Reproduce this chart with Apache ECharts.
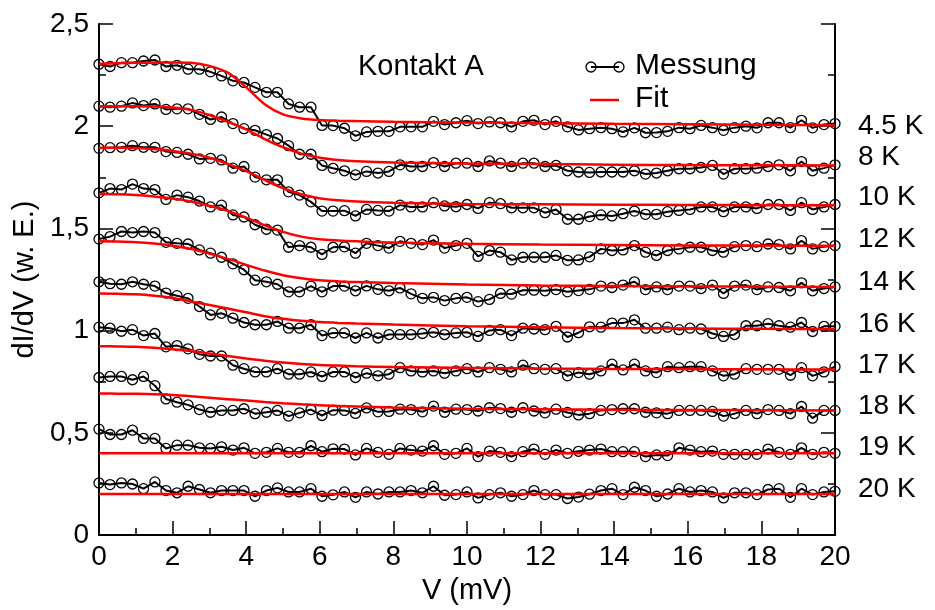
<!DOCTYPE html>
<html><head><meta charset="utf-8">
<script src="https://cdn.jsdelivr.net/npm/echarts@6/dist/echarts.min.js"></script>
<style>html,body{margin:0;padding:0;background:#fff}#c{width:935px;height:610px}</style>
</head><body><div id="c"></div>
<script>
// Bias voltage grid (mV)
const V = [0,0.30,0.61,0.91,1.21,1.52,1.82,2.12,2.42,2.73,3.03,3.33,3.64,3.94,4.24,4.55,4.85,5.15,5.45,5.76,6.06,6.36,6.67,6.97,7.27,7.58,7.88,8.18,8.48,8.79,9.09,9.39,9.70,10.00,10.30,10.61,10.91,11.21,11.52,11.82,12.12,12.42,12.73,13.03,13.33,13.64,13.94,14.24,14.55,14.85,15.15,15.45,15.76,16.06,16.36,16.67,16.97,17.27,17.58,17.88,18.18,18.48,18.79,19.09,19.39,19.70,20.00];
// Measured dI/dV (offset curves)
const m45 = [2.303,2.292,2.311,2.311,2.319,2.324,2.292,2.298,2.279,2.279,2.266,2.246,2.222,2.214,2.190,2.166,2.166,2.109,2.093,2.093,2.004,2.003,1.990,1.953,1.972,1.975,1.975,1.997,1.997,1.997,2.024,2.008,2.017,2.027,2.013,2.021,2.017,1.997,2.024,2.029,2.008,2.024,1.997,1.982,1.988,1.993,1.988,1.972,1.992,1.968,1.969,1.975,1.993,1.988,2.004,1.993,1.980,1.993,2.000,1.992,2.017,2.017,1.993,2.029,1.992,2.008,2.013];
const m8 = [2.098,2.093,2.098,2.114,2.101,2.109,2.082,2.085,2.085,2.058,2.033,2.045,2.013,1.988,1.980,1.959,1.940,1.905,1.863,1.863,1.808,1.794,1.782,1.762,1.779,1.771,1.779,1.811,1.803,1.803,1.822,1.803,1.819,1.819,1.803,1.830,1.819,1.803,1.819,1.819,1.803,1.808,1.782,1.776,1.774,1.776,1.776,1.776,1.782,1.766,1.771,1.782,1.792,1.792,1.798,1.808,1.766,1.792,1.792,1.795,1.803,1.811,1.782,1.827,1.782,1.795,1.811];
const m10 = [1.892,1.895,1.897,1.905,1.897,1.897,1.876,1.872,1.863,1.840,1.843,1.835,1.795,1.803,1.751,1.738,1.738,1.679,1.663,1.630,1.585,1.585,1.587,1.561,1.593,1.588,1.585,1.614,1.605,1.605,1.626,1.610,1.606,1.617,1.598,1.626,1.621,1.601,1.601,1.601,1.577,1.593,1.545,1.545,1.558,1.566,1.561,1.572,1.585,1.569,1.569,1.582,1.588,1.593,1.605,1.605,1.582,1.605,1.605,1.598,1.617,1.617,1.588,1.626,1.593,1.605,1.617];
const m12 = [1.674,1.695,1.690,1.717,1.695,1.690,1.642,1.663,1.653,1.634,1.605,1.614,1.566,1.556,1.518,1.496,1.492,1.408,1.416,1.408,1.373,1.408,1.410,1.379,1.427,1.416,1.404,1.437,1.427,1.421,1.443,1.404,1.416,1.427,1.363,1.392,1.384,1.346,1.359,1.359,1.359,1.368,1.344,1.346,1.361,1.400,1.392,1.395,1.416,1.384,1.368,1.392,1.400,1.408,1.408,1.392,1.384,1.411,1.416,1.411,1.424,1.421,1.400,1.440,1.400,1.411,1.416];
const m14 = [1.448,1.460,1.485,1.480,1.485,1.480,1.432,1.427,1.424,1.395,1.379,1.359,1.327,1.298,1.247,1.239,1.227,1.190,1.190,1.218,1.190,1.218,1.218,1.195,1.219,1.202,1.195,1.209,1.180,1.158,1.163,1.147,1.158,1.163,1.142,1.153,1.182,1.179,1.198,1.198,1.195,1.201,1.190,1.196,1.202,1.218,1.211,1.223,1.239,1.201,1.214,1.201,1.218,1.218,1.206,1.223,1.182,1.218,1.223,1.201,1.214,1.211,1.195,1.234,1.195,1.206,1.214];
const m16 = [1.239,1.230,1.227,1.239,1.227,1.218,1.184,1.171,1.158,1.118,1.077,1.085,1.061,1.040,1.029,1.029,1.045,1.012,1.012,1.029,0.976,0.989,0.989,0.964,0.989,0.964,0.981,0.981,0.981,0.986,0.992,0.981,0.989,0.992,0.972,1.001,1.005,0.976,1.012,1.008,1.005,1.021,0.969,0.990,1.019,1.017,1.037,1.037,1.053,1.012,1.012,1.017,1.005,1.012,1.008,0.986,0.972,0.981,1.024,1.024,1.034,1.024,1.017,1.040,0.996,1.021,1.021];
const m17 = [1.017,1.012,0.997,1.005,0.976,0.986,0.921,0.927,0.911,0.884,0.876,0.876,0.831,0.814,0.798,0.798,0.814,0.787,0.787,0.798,0.776,0.798,0.798,0.771,0.792,0.779,0.787,0.819,0.803,0.798,0.803,0.792,0.803,0.814,0.798,0.819,0.811,0.798,0.831,0.814,0.811,0.814,0.779,0.795,0.787,0.803,0.836,0.808,0.836,0.803,0.795,0.824,0.819,0.824,0.824,0.803,0.779,0.787,0.814,0.811,0.811,0.811,0.782,0.819,0.779,0.798,0.824];
const m18 = [0.771,0.776,0.776,0.760,0.776,0.731,0.666,0.650,0.637,0.614,0.601,0.610,0.610,0.618,0.594,0.601,0.610,0.582,0.598,0.614,0.585,0.611,0.610,0.595,0.622,0.603,0.605,0.616,0.614,0.603,0.631,0.601,0.616,0.614,0.607,0.623,0.619,0.601,0.623,0.607,0.598,0.616,0.600,0.588,0.594,0.610,0.614,0.618,0.618,0.601,0.598,0.594,0.610,0.610,0.610,0.605,0.582,0.594,0.610,0.594,0.614,0.610,0.594,0.629,0.572,0.610,0.610];
const m19 = [0.518,0.492,0.492,0.513,0.473,0.473,0.424,0.440,0.440,0.427,0.424,0.432,0.416,0.427,0.400,0.405,0.424,0.405,0.405,0.437,0.408,0.422,0.421,0.392,0.424,0.405,0.395,0.424,0.416,0.411,0.437,0.395,0.400,0.424,0.384,0.411,0.405,0.384,0.408,0.421,0.395,0.416,0.400,0.410,0.416,0.421,0.408,0.408,0.408,0.384,0.392,0.389,0.427,0.416,0.408,0.411,0.395,0.395,0.395,0.395,0.421,0.405,0.395,0.427,0.395,0.405,0.400];
const m20 = [0.255,0.247,0.255,0.250,0.227,0.260,0.218,0.207,0.239,0.223,0.207,0.218,0.218,0.218,0.190,0.218,0.231,0.211,0.211,0.227,0.190,0.197,0.211,0.185,0.211,0.201,0.211,0.211,0.218,0.207,0.239,0.195,0.198,0.211,0.182,0.198,0.207,0.190,0.198,0.218,0.198,0.198,0.179,0.186,0.200,0.218,0.227,0.198,0.234,0.218,0.190,0.201,0.227,0.211,0.218,0.211,0.182,0.207,0.207,0.198,0.223,0.227,0.185,0.227,0.198,0.211,0.214];
// Fit curves, read at fitV
const fitV = [0,0.5,1,1.5,2,2.5,3,3.5,4,4.5,5,5.5,6,6.5,7,8,10,12,14,16,18,20];
const f45 = [2.305,2.308,2.310,2.311,2.312,2.310,2.295,2.262,2.190,2.108,2.058,2.038,2.030,2.027,2.025,2.022,2.018,2.015,2.012,2.010,2.007,2.005];
const f8  = [2.098,2.098,2.098,2.096,2.091,2.080,2.055,2.022,1.985,1.937,1.897,1.866,1.846,1.835,1.829,1.823,1.818,1.815,1.812,1.810,1.809,1.808];
const f10 = [1.895,1.895,1.893,1.888,1.879,1.866,1.846,1.816,1.780,1.737,1.697,1.667,1.647,1.638,1.632,1.626,1.620,1.618,1.616,1.615,1.614,1.614];
const f12 = [1.668,1.667,1.663,1.656,1.647,1.632,1.611,1.586,1.553,1.516,1.483,1.460,1.447,1.441,1.437,1.431,1.425,1.421,1.419,1.417,1.416,1.415];
const f14 = [1.437,1.436,1.433,1.426,1.415,1.399,1.377,1.351,1.322,1.294,1.271,1.256,1.246,1.241,1.238,1.233,1.226,1.221,1.218,1.216,1.215,1.214];
const f16 = [1.182,1.181,1.178,1.171,1.160,1.143,1.126,1.108,1.090,1.071,1.058,1.048,1.042,1.038,1.035,1.030,1.022,1.017,1.013,1.011,1.009,1.008];
const f17 = [0.924,0.923,0.921,0.916,0.909,0.900,0.888,0.876,0.864,0.853,0.844,0.837,0.832,0.829,0.826,0.822,0.818,0.815,0.813,0.812,0.811,0.810];
const f18 = [0.693,0.692,0.691,0.689,0.685,0.679,0.672,0.665,0.658,0.651,0.645,0.640,0.635,0.632,0.629,0.624,0.618,0.615,0.613,0.612,0.611,0.610];
const f19 = [0.400,0.400,0.400,0.400,0.400,0.400,0.400,0.400,0.400,0.400,0.400,0.400,0.400,0.400,0.400,0.400,0.400,0.400,0.400,0.400,0.400,0.400];
const f20 = [0.201,0.201,0.201,0.201,0.201,0.201,0.201,0.201,0.201,0.201,0.201,0.201,0.201,0.201,0.201,0.201,0.201,0.201,0.201,0.201,0.201,0.201];
const temps = ['4.5 K','8 K','10 K','12 K','14 K','16 K','17 K','18 K','19 K','20 K'];
const measured = [m45,m8,m10,m12,m14,m16,m17,m18,m19,m20];
const fits = [f45,f8,f10,f12,f14,f16,f17,f18,f19,f20];

const FONT = 'Liberation Sans, Arial, Helvetica, sans-serif';
const chart = echarts.init(document.getElementById('c'), null, {renderer:'canvas'});
const series = [];
measured.forEach((m, k) => {
  series.push({
    name: 'Messung ' + temps[k], type: 'line', data: V.map((v,i)=>[v,m[i]]),
    symbol: 'circle', symbolSize: 10, showAllSymbol: true,
    lineStyle: {color:'#000', width:2},
    itemStyle: {color:'rgba(0,0,0,0)', borderColor:'#000', borderWidth:1.3},
    emphasis: {disabled:true}, z: 2, animation: false
  });
});
fits.forEach((f, k) => {
  series.push({
    name: 'Fit ' + temps[k], type: 'line', data: fitV.map((v,i)=>[v,f[i]]),
    symbol: 'none', smooth: 0.3,
    lineStyle: {color:'#ff0000', width:2.5},
    emphasis: {disabled:true}, z: 3, animation: false
  });
});
const comma = v => String(v).replace('.', ',');
const tempY = [127,158,198,240,283,325,366,407,448,490];
const graphic = [];
temps.forEach((t,k)=>{
  graphic.push({type:'text', left:858, top: tempY[k]-15, style:{text:t, font:'28px '+FONT, fill:'#000'}});
});
graphic.push(
  {type:'text', left:358, top:52, style:{text:'Kontakt A', font:'29px '+FONT, fill:'#000'}},
  {type:'line', shape:{x1:591,y1:67,x2:619,y2:67}, style:{stroke:'#000', lineWidth:2}},
  {type:'circle', shape:{cx:591,cy:67,r:5}, style:{fill:'none', stroke:'#000', lineWidth:1.3}},
  {type:'circle', shape:{cx:619,cy:67,r:5}, style:{fill:'none', stroke:'#000', lineWidth:1.3}},
  {type:'text', left:635, top:51, style:{text:'Messung', font:'30px '+FONT, fill:'#000'}},
  {type:'line', shape:{x1:590,y1:100,x2:619,y2:100}, style:{stroke:'#ff0000', lineWidth:2.5}},
  {type:'text', left:635, top:84, style:{text:'Fit', font:'30px '+FONT, fill:'#000'}}
);
const axisLineStyle = {lineStyle:{color:'#000', width:2}};
chart.setOption({
  animation:false,
  backgroundColor:'#fff',
  grid:{left:99, right:100, top:24, bottom:69, containLabel:false},
  xAxis:[{
    type:'value', min:0, max:20, interval:2, position:'bottom',
    name:'V (mV)', nameLocation:'middle', nameGap:36,
    nameTextStyle:{fontFamily:FONT, fontSize:29, color:'#000'},
    axisLine:axisLineStyle,
    axisTick:{inside:true, length:14, lineStyle:{color:'#000', width:1.5}},
    minorTick:{show:true, splitNumber:2, length:7, lineStyle:{color:'#000', width:1.5}},
    axisLabel:{fontFamily:FONT, fontSize:28, color:'#000', margin:8},
    splitLine:{show:false}
  }],
  yAxis:[{
    type:'value', min:0, max:2.5, interval:0.5, position:'left',
    name:'dI/dV (w. E.)', nameLocation:'middle', nameGap:58,
    nameTextStyle:{fontFamily:FONT, fontSize:29, color:'#000'},
    axisLine:axisLineStyle,
    axisTick:{inside:true, length:14, lineStyle:{color:'#000', width:1.5}},
    minorTick:{show:true, splitNumber:2, length:7, lineStyle:{color:'#000', width:1.5}},
    axisLabel:{fontFamily:FONT, fontSize:28, color:'#000', margin:10, formatter:comma},
    splitLine:{show:false}
  },{
    type:'value', min:0, max:2.5, interval:0.5, position:'right',
    axisLine:{show:true, lineStyle:{color:'#000', width:2}},
    axisTick:{show:true, inside:true, length:14, lineStyle:{color:'#000', width:1.5}},
    minorTick:{show:true, splitNumber:2, length:7, lineStyle:{color:'#000', width:1.5}},
    axisLabel:{show:false}, splitLine:{show:false}
  }],
  series: series,
  graphic: graphic
});
</script></body></html>
